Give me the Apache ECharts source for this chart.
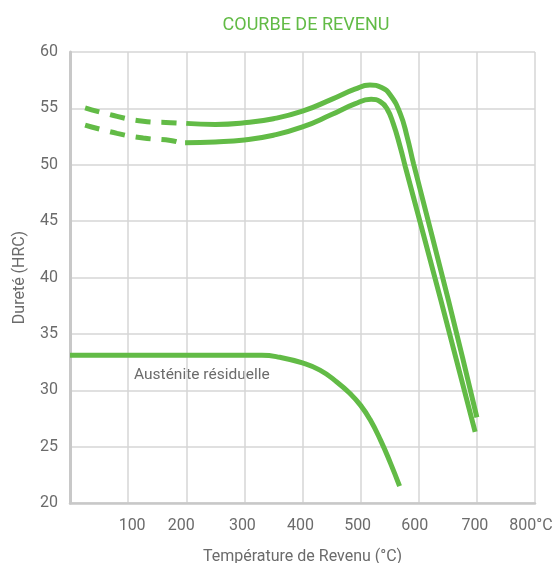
<!DOCTYPE html>
<html>
<head>
<meta charset="utf-8">
<script src="https://cdn.jsdelivr.net/npm/echarts@6/dist/echarts.min.js"></script>
<style>
html,body{margin:0;padding:0;background:#fff;}
#chart{width:557px;height:563px;}
</style>
</head>
<body>
<div id="chart"></div>
<script>
// ---- data ----
const titleText = 'COURBE DE REVENU';
const xAxisName = 'Température de Revenu (°C)';
const yAxisName = 'Dureté (HRC)';
const annotation = 'Austénite résiduelle';
const xTickLabels = {100:'100',200:'200',300:'300',400:'400',500:'500',600:'600',700:'700',800:'800°C'};

// upper hardness curve (dashed part, then solid part)
const upperDashed = [[26,55.05],[81,54.29],[126,53.86],[173,53.73],[186,53.69]];
const upperSolid = [[200,53.67],[250,53.58],[300,53.72],[350,54.08],[400,54.75],[450,55.8],[490,56.7],[516,57.07],[536,56.85],[551,56.18],[568,54.56],[580,52.48],[591,50.1],[651,38.0],[700,27.6]];
// lower hardness curve
const lowerDashed = [[26,53.52],[81,52.78],[126,52.37],[173,52.15],[186,52.0]];
const lowerSolid = [[198,51.95],[250,52.02],[300,52.2],[350,52.62],[400,53.35],[450,54.45],[490,55.4],[518,55.8],[534,55.59],[545,55.0],[556,53.67],[568,51.6],[577,49.8],[638,38.0],[697,26.3]];
// retained austenite curve
const austenite = [[0,33.1],[330,33.1],[361,32.92],[400,32.42],[430,31.78],[459,30.74],[482,29.7],[500,28.66],[516,27.42],[534,25.6],[551,23.58],[567,21.5]];

const GREEN = '#62bb46';
const GRAY = '#6b6b6b';

const chart = echarts.init(document.getElementById('chart'));

function lineSeries(data, dashed) {
  return {
    type: 'line',
    data: data,
    showSymbol: false,
    smooth: 0.5,
    silent: true,
    lineStyle: {color: GREEN, width: 5, type: dashed ? [15, 11] : 'solid', cap: 'butt'},
    z: 3
  };
}

const labelShift = {100: 4, 200: -5, 300: -2, 400: -2, 500: -3, 600: -4, 700: -2, 800: -4};

chart.setOption({
  animation: false,
  backgroundColor: '#fff',
  textStyle: {fontFamily: 'Roboto'},
  title: {
    text: titleText,
    left: 301,
    textAlign: 'center',
    top: 11,
    textStyle: {color: GREEN, fontSize: 18, fontWeight: 'normal', fontFamily: 'Roboto'}
  },
  grid: {left: 70, right: 22, top: 52, bottom: 60, containLabel: false, outerBoundsMode: 'none'},
  xAxis: {
    type: 'value',
    min: 0, max: 800, interval: 100,
    name: xAxisName,
    nameLocation: 'middle',
    nameGap: 46,
    nameTextStyle: {color: GRAY, fontSize: 16},
    axisLine: {show: true, lineStyle: {color: '#c8c8c8', width: 2.5}},
    axisTick: {show: false},
    splitLine: {show: true, lineStyle: {color: '#d6d6d6', width: 1.5}},
    axisLabel: {
      color: GRAY, fontSize: 16, margin: 15,
      formatter: function (v) {
        const t = xTickLabels[v];
        if (!t) return '';
        const s = labelShift[v] || 0;
        return '{s' + (s < 0 ? 'm' + (-s) : 'p' + s) + '|' + t + '}';
      },
      rich: (function () {
        const r = {};
        for (let i = 0; i <= 6; i++) {
          r['sp' + i] = {color: GRAY, fontSize: 16, padding: [0, 0, 0, 2 * i]};
          r['sm' + i] = {color: GRAY, fontSize: 16, padding: [0, 2 * i, 0, 0]};
        }
        return r;
      })()
    }
  },
  yAxis: {
    type: 'value',
    min: 20, max: 60, interval: 5,
    name: yAxisName,
    nameLocation: 'middle',
    nameGap: 42,
    nameTextStyle: {color: GRAY, fontSize: 16},
    axisLine: {show: true, lineStyle: {color: '#c8c8c8', width: 3}},
    axisTick: {show: false},
    splitLine: {show: true, lineStyle: {color: '#d6d6d6', width: 1.5}},
    axisLabel: {color: GRAY, fontSize: 16, margin: 12}
  },
  graphic: [{
    type: 'text',
    left: 134,
    top: 367,
    style: {text: annotation, fill: GRAY, fontSize: 15.5, fontFamily: 'Roboto'}
  }],
  series: [
    lineSeries(upperDashed, true),
    lineSeries(upperSolid, false),
    lineSeries(lowerDashed, true),
    lineSeries(lowerSolid, false),
    lineSeries(austenite, false)
  ]
});
</script>
</body>
</html>
